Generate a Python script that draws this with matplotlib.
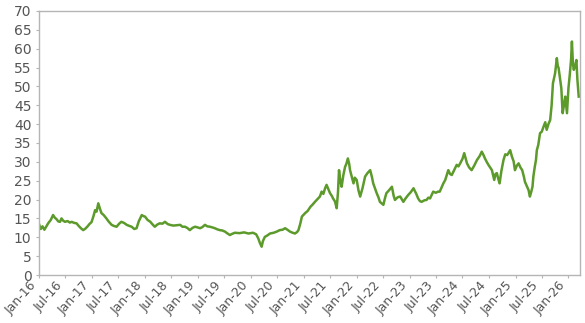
import numpy as np
import pandas as pd
import matplotlib
matplotlib.use("Agg")
import matplotlib.pyplot as plt
import matplotlib.dates as mdates

# values, roughly twice a month
dates = [
    "2016-01-01", "2016-01-13", "2016-01-25", "2016-02-07", "2016-02-19", "2016-03-04", "2016-03-22",
    "2016-04-07", "2016-04-19", "2016-05-01", "2016-05-13", "2016-05-25", "2016-06-04", "2016-06-16",
    "2016-06-28", "2016-07-16", "2016-08-01", "2016-08-13", "2016-09-01", "2016-09-16", "2016-10-01",
    "2016-10-16", "2016-11-01", "2016-11-16", "2016-12-01", "2016-12-16", "2016-12-28",
    "2017-01-10", "2017-01-22", "2017-02-01", "2017-02-13", "2017-02-25", "2017-03-07", "2017-03-22",
    "2017-04-10", "2017-04-25", "2017-05-16", "2017-06-01", "2017-06-19", "2017-07-07", "2017-07-22",
    "2017-08-10", "2017-08-28", "2017-09-16", "2017-10-01", "2017-10-19", "2017-11-04", "2017-11-19",
    "2017-12-10", "2017-12-22",
    "2018-01-01", "2018-01-19", "2018-02-07", "2018-02-25", "2018-03-10", "2018-03-28", "2018-04-13",
    "2018-05-01", "2018-05-19", "2018-06-07", "2018-06-22", "2018-07-16", "2018-08-10", "2018-09-01",
    "2018-09-16", "2018-10-04", "2018-10-19", "2018-11-07", "2018-11-25", "2018-12-13",
    "2019-01-01", "2019-01-16", "2019-02-01", "2019-02-19", "2019-03-07", "2019-03-25", "2019-04-13",
    "2019-04-28", "2019-05-16", "2019-06-01", "2019-06-19", "2019-07-07", "2019-07-25", "2019-08-10",
    "2019-08-25", "2019-09-13", "2019-10-16", "2019-11-16", "2019-12-16",
    "2020-01-16", "2020-02-07", "2020-02-22", "2020-03-04", "2020-03-16", "2020-03-25", "2020-04-07",
    "2020-04-25", "2020-05-13", "2020-06-07", "2020-06-28", "2020-07-19", "2020-08-07", "2020-08-25",
    "2020-09-10", "2020-09-28", "2020-10-16", "2020-11-01", "2020-11-16", "2020-11-25", "2020-12-07",
    "2020-12-19",
    "2021-01-10", "2021-01-28", "2021-02-16", "2021-03-01", "2021-03-19", "2021-04-10", "2021-04-22",
    "2021-05-04", "2021-05-16", "2021-05-28", "2021-06-07", "2021-06-19", "2021-07-01", "2021-07-13",
    "2021-07-22", "2021-08-04", "2021-08-16", "2021-08-25", "2021-09-01", "2021-09-10", "2021-09-19",
    "2021-10-01", "2021-10-13", "2021-10-22", "2021-11-01", "2021-11-10", "2021-11-16", "2021-11-28",
    "2021-12-10", "2021-12-19",
    "2022-01-01", "2022-01-13", "2022-01-25", "2022-02-10", "2022-02-28", "2022-03-16", "2022-04-04",
    "2022-04-16", "2022-04-25", "2022-05-07", "2022-05-19", "2022-06-01", "2022-06-10", "2022-06-22",
    "2022-07-04", "2022-07-16", "2022-07-25", "2022-08-13", "2022-09-01", "2022-09-13", "2022-09-22",
    "2022-10-10", "2022-10-28", "2022-11-19", "2022-12-04", "2022-12-22",
    "2023-01-10", "2023-01-28", "2023-02-16", "2023-03-01", "2023-03-13", "2023-03-25", "2023-04-13",
    "2023-04-28", "2023-05-10", "2023-05-22", "2023-06-13", "2023-07-01", "2023-07-16", "2023-07-28",
    "2023-08-22", "2023-09-04", "2023-09-25", "2023-10-07", "2023-10-19", "2023-11-07", "2023-11-22",
    "2023-12-04", "2023-12-16",
    "2024-01-01", "2024-01-13", "2024-01-22", "2024-02-01", "2024-02-16", "2024-03-04", "2024-03-22",
    "2024-04-10", "2024-04-28", "2024-05-13", "2024-05-25", "2024-06-04", "2024-06-16", "2024-06-28",
    "2024-07-10", "2024-07-22", "2024-08-07", "2024-08-16", "2024-08-25", "2024-09-04", "2024-09-13",
    "2024-09-25", "2024-10-10", "2024-10-22", "2024-11-04", "2024-11-13", "2024-11-25", "2024-12-07",
    "2024-12-19", "2024-12-28",
    "2025-01-10", "2025-01-22", "2025-02-04", "2025-02-16", "2025-02-28", "2025-03-07", "2025-03-22",
    "2025-04-01", "2025-04-10", "2025-04-19", "2025-04-28", "2025-05-04", "2025-05-13", "2025-05-22",
    "2025-05-28", "2025-06-07", "2025-06-19", "2025-07-01", "2025-07-13", "2025-07-25", "2025-08-04",
    "2025-08-16", "2025-08-28", "2025-09-07", "2025-09-16", "2025-10-01", "2025-10-13", "2025-10-19",
    "2025-10-25", "2025-11-04", "2025-11-13", "2025-11-22", "2025-12-01", "2025-12-10", "2025-12-22",
    "2026-01-01", "2026-01-10", "2026-01-19", "2026-01-25", "2026-02-01", "2026-02-07", "2026-02-16",
    "2026-02-25", "2026-03-04", "2026-03-13",
]

prices = [
    13.5, 12.2, 12.9, 12.0, 12.8, 13.7, 14.6,
    15.9, 15.2, 14.8, 14.2, 14.1, 15.0, 14.4,
    14.1, 14.3, 13.9, 14.1, 13.8, 13.7, 13.0,
    12.4, 11.9, 12.3, 12.9, 13.6, 14.0,
    15.5, 17.2, 16.8, 19.0, 17.5, 16.4, 15.9,
    15.0, 14.2, 13.3, 13.0, 12.8, 13.6, 14.1,
    13.8, 13.3, 13.0, 12.8, 12.2, 12.4, 14.2,
    15.9, 15.6,
    15.5, 14.6, 14.1, 13.3, 12.8, 13.4, 13.7,
    13.6, 14.1, 13.5, 13.3, 13.1, 13.2, 13.3,
    12.8, 12.8, 12.5, 11.9, 12.5, 12.8,
    12.6, 12.4, 12.7, 13.3, 12.9, 12.8, 12.6,
    12.4, 12.1, 11.9, 11.8, 11.5, 11.0, 10.6,
    10.9, 11.2, 11.1, 11.3, 11.0,
    11.2, 10.8, 9.7, 8.5, 7.5, 9.0, 10.1,
    10.5, 11.0, 11.2, 11.5, 11.9, 12.0, 12.4,
    12.0, 11.5, 11.2, 11.0, 11.4, 11.9, 13.5,
    15.5,
    16.4, 17.0, 18.1, 18.6, 19.4, 20.3, 20.8,
    22.1, 21.5, 23.0, 23.9, 22.8, 21.7, 21.0,
    20.3, 19.5, 17.7, 22.0, 27.8, 25.0, 23.4,
    26.5, 28.7, 29.5, 30.9, 29.5, 27.8, 26.0,
    24.3, 25.8,
    25.2, 22.5, 20.8, 23.0, 26.1, 27.0, 27.8,
    26.0, 24.3, 23.0, 21.7, 20.5, 19.4, 19.0,
    18.6, 20.5, 21.7, 22.5, 23.4, 21.0, 19.9,
    20.6, 20.8, 19.4, 20.3, 21.2,
    22.0, 23.0, 21.5, 20.3, 19.6, 19.4, 19.8,
    19.9, 20.5, 20.3, 22.1, 21.8, 22.1, 22.1,
    24.3, 25.2, 27.8, 26.8, 26.5, 28.0, 29.2,
    28.8, 29.6,
    30.8, 32.3, 31.0, 29.6, 28.5, 27.8, 29.0,
    30.5, 31.5, 32.7, 31.8, 30.9, 30.0, 29.2,
    28.5, 27.8, 25.2, 26.8, 27.0, 25.5, 24.3,
    27.5, 30.5, 32.0, 31.8, 32.3, 33.1, 31.4,
    30.1, 27.8,
    29.0, 29.6, 28.5, 27.8, 26.0, 24.7, 23.4,
    22.5, 20.8, 22.0, 23.4, 26.1, 28.5, 30.5,
    33.1, 34.5, 37.6, 38.0, 39.3, 40.5, 38.5,
    40.0, 41.1, 45.0, 50.8, 53.5, 57.5, 55.5,
    54.9, 52.0, 49.5, 42.9, 45.0, 47.3, 42.9,
    49.5, 53.0, 57.0, 61.9, 56.0, 54.4, 55.5,
    57.0, 51.7, 47.3,
]

x = pd.to_datetime(dates)
y = np.array(prices)

fig = plt.figure(figsize=(5.85, 3.23), dpi=100)
ax = fig.add_axes([0.0667, 0.1486, 0.9248, 0.8174])

ax.plot(x, y, color="#5c9a2c", linewidth=1.8)

ax.set_ylim(0, 70)
ax.set_yticks(np.arange(0, 71, 5))
ax.set_xlim(pd.Timestamp("2016-01-01"), pd.Timestamp("2026-03-22"))
ax.xaxis.set_major_locator(mdates.MonthLocator(bymonth=[1, 7]))
ax.xaxis.set_major_formatter(mdates.DateFormatter("%b-%y"))

for s in ax.spines.values():
    s.set_color("#b5b5b5")
    s.set_linewidth(1)
ax.tick_params(axis="both", colors="#b5b5b5", labelcolor="#555555", labelsize=10, length=2, width=0.8)
ax.tick_params(axis="x", labelsize=9, pad=1)
plt.setp(ax.get_xticklabels(), rotation=48, ha="right", rotation_mode="default")

fig.savefig("out.png", dpi=100)
